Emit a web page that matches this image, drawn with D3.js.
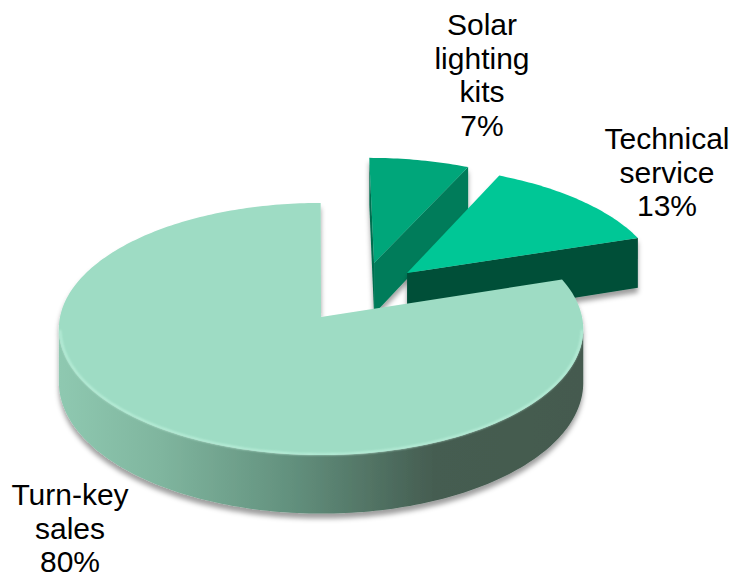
<!DOCTYPE html>
<html>
<head>
<meta charset="utf-8">
<script src="https://cdn.jsdelivr.net/npm/d3@7/dist/d3.min.js"></script>
<style>
  html, body { margin: 0; padding: 0; background: #ffffff; }
  svg { display: block; }
  text { font-family: "Liberation Sans", Arial, Helvetica, sans-serif; fill: #000; }
</style>
</head>
<body>
<svg id="chart" width="739" height="579"></svg>
<script>
// ---- data ----
const categories = ["Solar lighting kits", "Technical service", "Turn-key sales"];
const values = [7, 13, 80];

// ---- style / layout ----
const topColors   = ["#00a67a", "#00c796", "#9edcc4"];
const startColors = ["#006e50", "#005c43", "#6aa08a"];
const endColors   = ["#007c5a", "#004f39", "#6aa08a"];
const sideColors  = ["#007c5a", "#004f39", "url(#bandGrad)"];
// explosion offsets in disc units (u = right, v = away from viewer)
const explode = [[0.228, 0.45], [0.357, 0.364], [0.0154, 0]];
const labelPos = [[482, 35], [667, 149], [70, 505]];
const lineH = 33.6;

const W = 739, H = 579;
const cx = 317, cy = 317, Fx = 261, S = 124.9, K = 0.0952, TH = 53;

function P(u, v, d) {
  const w = 1 + K * v;
  return [cx + Fx * u / w, cy + (-S * v + TH * d) / w];
}

const svg = d3.select("#chart");
const defs = svg.append("defs");

const grad = defs.append("linearGradient").attr("id", "bandGrad")
  .attr("gradientUnits", "userSpaceOnUse")
  .attr("x1", 57).attr("y1", 0).attr("x2", 580).attr("y2", 0);
[[0, "#8fc9b1"], [0.2, "#7fb59e"], [0.45, "#62907d"], [0.72, "#455d51"], [1, "#445a4f"]]
  .forEach(([o, c]) => grad.append("stop").attr("offset", o).attr("stop-color", c));

const flt = defs.append("filter").attr("id", "shadow")
  .attr("x", "-10%").attr("y", "-10%").attr("width", "120%").attr("height", "130%");
flt.append("feDropShadow").attr("dx", 0).attr("dy", 5).attr("stdDeviation", 2.5)
  .attr("flood-color", "#000").attr("flood-opacity", 0.38);

const blurF = defs.append("filter").attr("id", "soft");
blurF.append("feGaussianBlur").attr("stdDeviation", 0.8);

const pie = d3.pie().sort(null).value(d => d).startAngle(0).endAngle(2 * Math.PI);
const arcs = pie(values);

const line = d3.line();
function arcPts(c, a0, a1, d, n) {
  const pts = [];
  for (let i = 0; i <= n; i++) {
    const a = a0 + (a1 - a0) * i / n;
    pts.push(P(c[0] + Math.sin(a), c[1] + Math.cos(a), d));
  }
  return pts;
}

// draw order: far slices first
const order = [0, 1, 2];
order.forEach(i => {
  const a = arcs[i];
  const c = explode[i];
  const g = svg.append("g").attr("filter", "url(#shadow)");
  const camV = -1 / K;

  // outer cylindrical side: visible portions
  const N = 240;
  const vis = [];
  for (let j = 0; j <= N; j++) {
    const t = a.startAngle + (a.endAngle - a.startAngle) * j / N;
    const s = Math.sin(t), co = Math.cos(t);
    const f = (-c[0] - s) * s + (camV - c[1] - co) * co;
    vis.push([t, f > 0]);
  }
  let run = [];
  const runs = [];
  vis.forEach(([t, ok]) => {
    if (ok) run.push(t);
    else if (run.length) { runs.push(run); run = []; }
  });
  if (run.length) runs.push(run);
  runs.forEach(r => {
    if (r.length < 2) return;
    const top = r.map(t => P(c[0] + Math.sin(t), c[1] + Math.cos(t), 0));
    const bot = r.slice().reverse().map(t => P(c[0] + Math.sin(t), c[1] + Math.cos(t), 1));
    g.append("path").attr("d", line(top.concat(bot)) + "Z")
      .attr("fill", sideColors[i]);
  });

  // radial cut faces
  const faces = [
    { ang: a.startAngle, n: [-Math.cos(a.startAngle), Math.sin(a.startAngle)], col: startColors[i] },
    { ang: a.endAngle, n: [Math.cos(a.endAngle), -Math.sin(a.endAngle)], col: endColors[i] }
  ];
  faces.forEach(fc => {
    const dot = (0 - c[0]) * fc.n[0] + (camV - c[1]) * fc.n[1];
    if (dot <= 1e-6) return;
    const ou = c[0] + Math.sin(fc.ang), ov = c[1] + Math.cos(fc.ang);
    const pts = [P(c[0], c[1], 0), P(ou, ov, 0), P(ou, ov, 1), P(c[0], c[1], 1)];
    g.append("path").attr("d", line(pts) + "Z").attr("fill", fc.col);
  });

  // top face
  const n = Math.max(8, Math.round((a.endAngle - a.startAngle) / (2 * Math.PI) * 360));
  const topPts = [P(c[0], c[1], 0)].concat(arcPts(c, a.startAngle, a.endAngle, 0, n));
  g.append("path").attr("d", line(topPts) + "Z").attr("fill", topColors[i]);

  // bevel highlight on visible front rim
  runs.forEach(r => {
    if (r.length < 2) return;
    const rim = r.map(t => P(c[0] + 0.995 * Math.sin(t), c[1] + 0.995 * Math.cos(t), 0));
    svg.append("path").attr("d", line(rim)).attr("fill", "none")
      .attr("stroke", "#c4f6e2").attr("stroke-width", 1.6).attr("opacity", 0.9)
      .attr("filter", "url(#soft)");
  });
});

// labels
const total = d3.sum(values);
categories.forEach((cat, i) => {
  const lines = cat.split(" ").concat([Math.round(values[i] / total * 100) + "%"]);
  const t = svg.append("text").attr("text-anchor", "middle")
    .attr("font-size", 30);
  lines.forEach((l, k) => {
    t.append("tspan").attr("x", labelPos[i][0]).attr("y", labelPos[i][1] + k * lineH).text(l);
  });
});
</script>
</body>
</html>
